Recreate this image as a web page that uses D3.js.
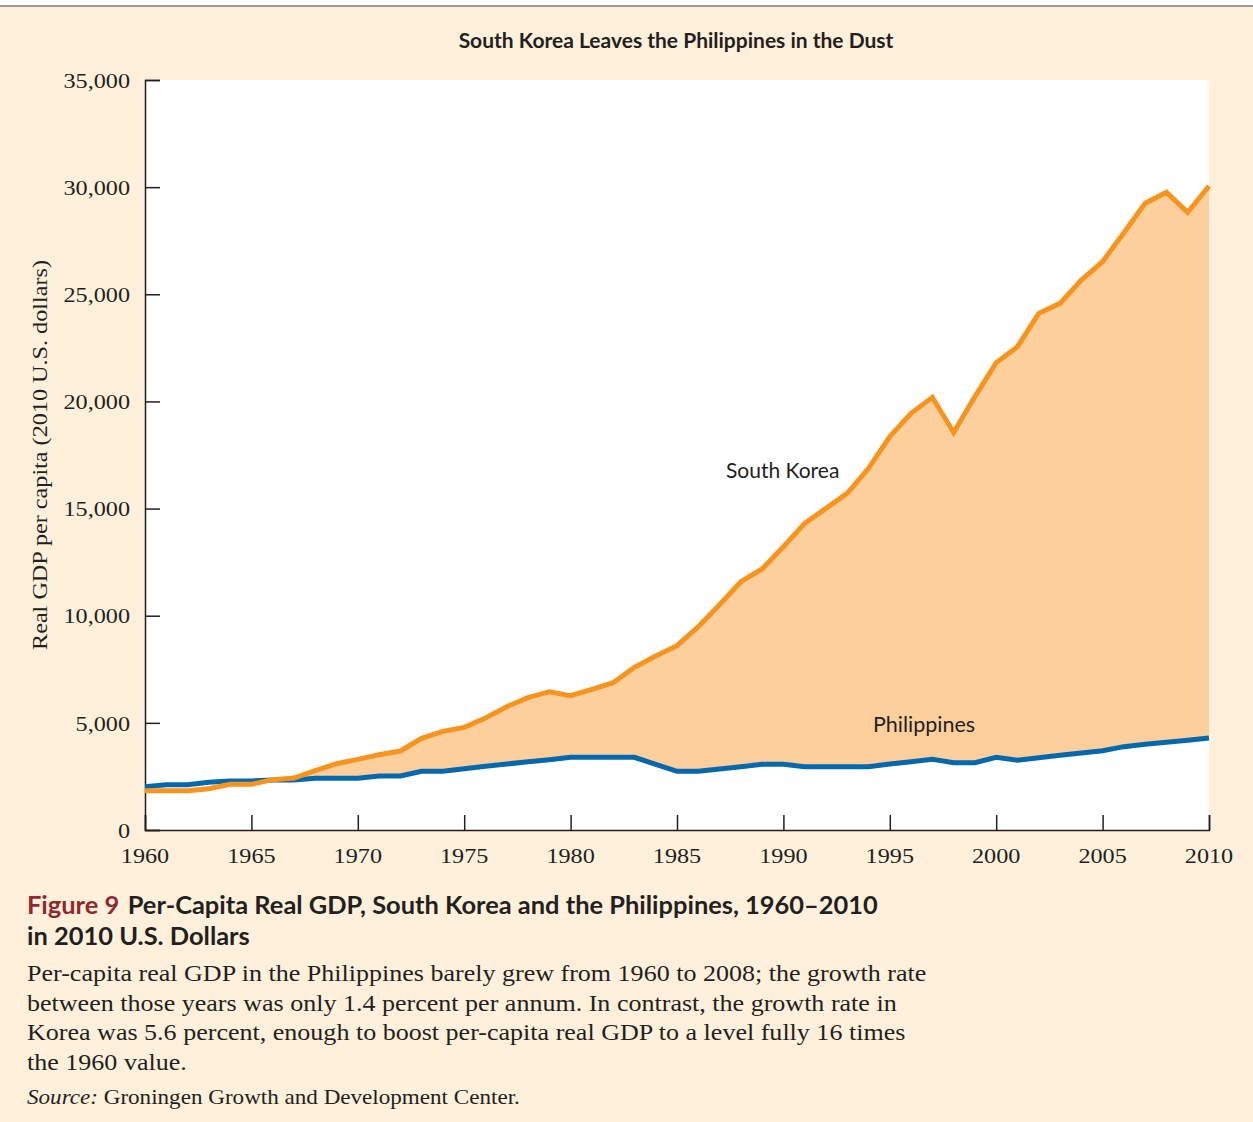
<!DOCTYPE html>
<html>
<head>
<meta charset="utf-8">
<script src="https://cdn.jsdelivr.net/npm/d3@7"></script>
<style>
  body { margin: 0; background: #fff; }
  svg { display: block; }
</style>
</head>
<body>
<script>
// chart data
var years = d3.range(1960, 2011);
var korea = [1835, 1835, 1835, 1928, 2131, 2131, 2349, 2427, 2769, 3095,
             3297, 3515, 3687, 4278, 4604, 4791, 5227, 5755, 6175, 6454,
             6268, 6563, 6874, 7591, 8120, 8601, 9488, 10515, 11588, 12180,
             13222, 14311, 15011, 15711, 16880, 18356, 19445, 20192, 18550, 20222,
             21809, 22555, 24111, 24578, 25667, 26522, 27876, 29245, 29759, 28826,
             30053];
var philippines = [2022, 2115, 2115, 2224, 2287, 2287, 2333, 2333, 2411, 2411,
                   2411, 2520, 2520, 2738, 2738, 2862, 2971, 3080, 3189, 3282,
                   3391, 3391, 3391, 3391, 3064, 2738, 2738, 2847, 2956, 3064,
                   3064, 2956, 2956, 2956, 2956, 3080, 3189, 3305, 3142, 3142,
                   3391, 3251, 3376, 3484, 3593, 3702, 3889, 3998, 4091, 4184,
                   4293];
var yTicks = [0, 5000, 10000, 15000, 20000, 25000, 30000, 35000];
var xTicks = [1960, 1965, 1970, 1975, 1980, 1985, 1990, 1995, 2000, 2005, 2010];

var W = 1253, H = 1122;
var margin = {left: 145, right: 44, top: 80, bottom: 292};

var svg = d3.select("body").append("svg")
    .attr("width", W)
    .attr("height", H);

svg.append("rect").attr("x", 0).attr("y", 7).attr("width", W).attr("height", H - 7)
    .attr("fill", "#fef0da");
svg.append("line").attr("x1", 0).attr("x2", W).attr("y1", 6).attr("y2", 6)
    .attr("stroke", "#9a9a9a").attr("stroke-width", 2);

var x = d3.scaleLinear().domain([1960, 2010]).range([margin.left, W - margin.right]);
var y = d3.scaleLinear().domain([0, 35000]).range([H - margin.bottom, margin.top]);

svg.append("rect")
    .attr("x", x(1960)).attr("y", y(35000))
    .attr("width", x(2010) - x(1960)).attr("height", y(0) - y(35000))
    .attr("fill", "#fff");

var data = years.map(function(yr, i) {
    return {year: yr, k: korea[i], p: philippines[i]};
});

var area = d3.area()
    .x(function(d) { return x(d.year); })
    .y0(function(d) { return y(d.p); })
    .y1(function(d) { return y(Math.max(d.k, d.p)); });

svg.append("path").datum(data).attr("d", area).attr("fill", "#fdcf9c");

var serif = "'Liberation Serif', serif";
var sans = "Lato, 'Open Sans', sans-serif";
var ink = "#231f20";

// text placed at (px,py), stretched sideways by sx (the original faces are wider)
function label(px, py, sx, extra) {
    var g = svg.append("g")
        .attr("transform", "translate(" + px + "," + py + ")" + (extra || "") + " scale(" + sx + ",1)");
    return g.append("text").attr("fill", ink);
}

// axes
var yAxis = svg.append("g")
    .attr("transform", "translate(" + x(1960) + ",0)")
    .call(d3.axisRight(y).tickValues(yTicks).tickSize(15).tickFormat(""));
var xAxis = svg.append("g")
    .attr("transform", "translate(0," + y(0) + ")")
    .call(d3.axisTop(x).tickValues(xTicks).tickSize(15).tickFormat(""));
[yAxis, xAxis].forEach(function(g) {
    g.select(".domain").attr("stroke", ink).attr("stroke-width", 1.5);
    g.selectAll(".tick line").attr("stroke", ink).attr("stroke-width", 1.5);
});

yTicks.forEach(function(d) {
    label(130, y(d), 1.1).attr("dy", "0.35em").attr("text-anchor", "end")
        .style("font-family", serif).style("font-size", "22px")
        .text(d3.format(",")(d));
});
xTicks.forEach(function(d) {
    label(x(d), 863, 1.1).attr("text-anchor", "middle")
        .style("font-family", serif).style("font-size", "22px")
        .text(d);
});

// lines
var line = function(key) {
    return d3.line().x(function(d) { return x(d.year); }).y(function(d) { return y(d[key]); });
};
svg.append("path").datum(data).attr("d", line("p"))
    .attr("fill", "none").attr("stroke", "#0568ad").attr("stroke-width", 5);
svg.append("path").datum(data).attr("d", line("k"))
    .attr("fill", "none").attr("stroke", "#f7941f").attr("stroke-width", 5);

// labels
label(676, 48, 1.05).attr("text-anchor", "middle")
    .style("font-family", sans).style("font-weight", "bold").style("font-size", "20px")
    .text("South Korea Leaves the Philippines in the Dust");

label(726, 478, 1).style("font-family", sans).style("font-size", "21px")
    .text("South Korea");
label(873, 732, 1).style("font-family", sans).style("font-size", "21.5px")
    .text("Philippines");

label(47, 455, 1.1, " rotate(-90)").attr("text-anchor", "middle")
    .style("font-family", serif).style("font-size", "22px")
    .text("Real GDP per capita (2010 U.S. dollars)");

// caption
var cap = label(27, 914, 1.06)
    .style("font-family", sans).style("font-weight", "bold").style("font-size", "24px");
cap.append("tspan").attr("fill", "#8e2a2e").text("Figure 9");
cap.append("tspan").attr("dx", 8).text("Per-Capita Real GDP, South Korea and the Philippines, 1960\u20132010");
label(27, 945, 1.06)
    .style("font-family", sans).style("font-weight", "bold").style("font-size", "24px")
    .text("in 2010 U.S. Dollars");

var body = [
    "Per-capita real GDP in the Philippines barely grew from 1960 to 2008; the growth rate",
    "between those years was only 1.4 percent per annum. In contrast, the growth rate in",
    "Korea was 5.6 percent, enough to boost per-capita real GDP to a level fully 16 times",
    "the 1960 value."
];
body.forEach(function(t, i) {
    label(27, 981 + i * 29.5, 1.108)
        .style("font-family", serif).style("font-size", "23.5px")
        .text(t);
});

var src = label(27, 1104, 1.1)
    .style("font-family", serif).style("font-size", "21px");
src.append("tspan").style("font-style", "italic").text("Source:");
src.append("tspan").text(" Groningen Growth and Development Center.");
</script>
</body>
</html>
